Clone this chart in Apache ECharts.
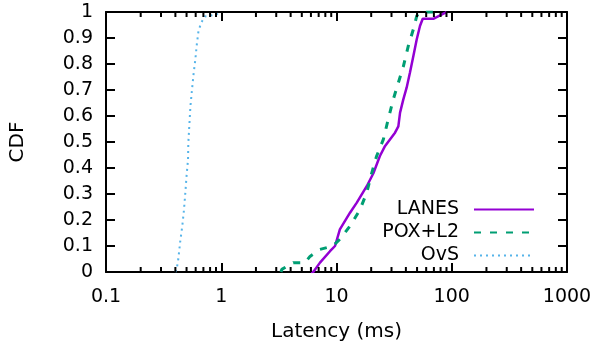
<!DOCTYPE html>
<html><head><meta charset="utf-8">
<script src="https://cdn.jsdelivr.net/npm/echarts@6/dist/echarts.min.js"></script>
<style>html,body{margin:0;padding:0;background:#fff}#c{width:597px;height:348px}</style>
</head><body><div id="c"></div>
<script>
var xTickLabels = ['0.1', '1', '10', '100', '1000'];
var yTicks = [0, 0.1, 0.2, 0.3, 0.4, 0.5, 0.6, 0.7, 0.8, 0.9, 1];

var lanesX = [6.0, 6.29, 7.19, 8.78, 9.71, 10.7, 13.1, 15.0, 18.3, 20.9, 23.8, 26.4, 29.1, 32.2, 34.4, 35.6, 38.0, 40.6, 43.4, 46.4, 49.7, 53.0, 56.0, 69.2, 79.1, 87.4, 90];
var lanesY = [0, 0, 0.036, 0.08, 0.1, 0.164, 0.228, 0.267, 0.33, 0.38, 0.446, 0.485, 0.51, 0.536, 0.56, 0.613, 0.664, 0.709, 0.767, 0.83, 0.895, 0.946, 0.974, 0.974, 0.987, 0.997, 1];

var poxX = [3.3, 3.35, 4.22, 5.33, 5.89, 7.19, 9.32, 10.7, 13.1, 16.0, 18.3, 20.2, 22.3, 25.5, 28.1, 31.1, 34.4, 38.0, 42.0, 46.4, 49.7, 53.0, 68.7];
var poxY = [0, 0.01, 0.036, 0.036, 0.06, 0.087, 0.1, 0.126, 0.177, 0.24, 0.305, 0.38, 0.446, 0.51, 0.587, 0.664, 0.728, 0.79, 0.87, 0.933, 0.985, 1, 1];

var ovsX = [0.40, 0.41, 0.424, 0.44, 0.46, 0.475, 0.488, 0.50, 0.515, 0.518, 0.53, 0.54, 0.557, 0.576, 0.595, 0.615, 0.636, 0.676, 0.72, 0.91, 0.95];
var ovsY = [0, 0.01, 0.05, 0.115, 0.18, 0.24, 0.305, 0.37, 0.433, 0.497, 0.573, 0.637, 0.70, 0.764, 0.815, 0.879, 0.93, 0.962, 0.983, 0.99, 1];

function zip(a, b) { return a.map(function (v, i) { return [v, b[i]]; }); }

var minorTicks = [];
[0.1, 1, 10, 100].forEach(function (d) { for (var k = 2; k <= 9; k++) minorTicks.push(+(d * k).toPrecision(3)); });

var FONT = 'DejaVu Sans';
var TICKFS = 19, NAMEFS = 20;
var chart = echarts.init(document.getElementById('c'), null, {renderer: 'canvas'});

var logAxisBase = {
  type: 'log', logBase: 10, min: 0.1, max: 1000,
  axisLine: {show: true, onZero: false, lineStyle: {color: '#000', width: 2}},
  axisTick: {show: true, inside: true, length: 9, lineStyle: {color: '#000', width: 2}},
  splitLine: {show: false},
  minorTick: {show: false}
};
var valAxisBase = {
  type: 'value', min: 0, max: 1, interval: 0.1,
  axisLine: {show: true, onZero: false, lineStyle: {color: '#000', width: 2}},
  axisTick: {show: true, inside: true, length: 9, lineStyle: {color: '#000', width: 2}},
  splitLine: {show: false}
};

var option = {
  animation: false,
  backgroundColor: '#fff',
  textStyle: {fontFamily: FONT},
  grid: {left: 106, right: 30, top: 12, bottom: 76, containLabel: false},
  legend: {
    orient: 'vertical', align: 'right', right: 57, top: 195,
    itemWidth: 60, itemHeight: 14, itemGap: 4,
    data: ['LANES', 'POX+L2', 'OvS'],
    itemStyle: {opacity: 0},
    textStyle: {fontFamily: FONT, fontSize: TICKFS, color: '#000', padding: [0, 10, 0, 0]},
    selectedMode: false
  },
  xAxis: [
    Object.assign({}, logAxisBase, {
      position: 'bottom',
      name: 'Latency (ms)', nameLocation: 'middle', nameGap: 50,
      nameTextStyle: {fontFamily: FONT, fontSize: NAMEFS, color: '#000'},
      axisLabel: {show: true, fontFamily: FONT, fontSize: TICKFS, color: '#000', margin: 16,
        formatter: function (v) { var i = Math.round(Math.log10(v)) + 1; return xTickLabels[i]; }}
    }),
    Object.assign({}, logAxisBase, {position: 'top', axisLabel: {show: false}})
  ],
  yAxis: [
    Object.assign({}, valAxisBase, {
      position: 'left',
      name: 'CDF', nameLocation: 'middle', nameGap: 78, nameRotate: 90,
      nameTextStyle: {fontFamily: FONT, fontSize: NAMEFS, color: '#000'},
      axisLabel: {show: true, fontFamily: FONT, fontSize: TICKFS, color: '#000', margin: 13,
        formatter: function (v) { var i = Math.round(v * 10); return String(yTicks[i]); }}
    }),
    Object.assign({}, valAxisBase, {position: 'right', axisLabel: {show: false}})
  ],
  series: [
    {
      name: 'LANES', type: 'line', xAxisIndex: 0, yAxisIndex: 0,
      data: zip(lanesX, lanesY), showSymbol: false, symbol: 'none',
      lineStyle: {color: '#9400d3', width: 2.5}, itemStyle: {color: '#9400d3'}, z: 3
    },
    {
      name: 'POX+L2', type: 'line', xAxisIndex: 0, yAxisIndex: 0,
      data: zip(poxX, poxY), showSymbol: false, symbol: 'none',
      lineStyle: {color: '#009e73', width: 3, type: [7, 9]}, itemStyle: {color: '#009e73'}, z: 4
    },
    {
      name: 'OvS', type: 'line', xAxisIndex: 0, yAxisIndex: 0,
      data: zip(ovsX, ovsY), showSymbol: false, symbol: 'none',
      lineStyle: {color: '#56b4e9', width: 2, type: [2, 4]}, itemStyle: {color: '#56b4e9'}, z: 5
    },
    {
      name: 'minor', type: 'custom', xAxisIndex: 0, yAxisIndex: 0, silent: true, z: 6,
      data: minorTicks.map(function (v) { return [v]; }),
      renderItem: function (params, api) {
        var v = api.value(0);
        var b = api.coord([v, 0]);
        var t = api.coord([v, 1]);
        var st = {stroke: '#000', lineWidth: 2};
        return {type: 'group', children: [
          {type: 'line', shape: {x1: b[0], y1: b[1], x2: b[0], y2: b[1] - 5}, style: st},
          {type: 'line', shape: {x1: t[0], y1: t[1], x2: t[0], y2: t[1] + 5}, style: st}
        ]};
      }
    }
  ]
};
chart.setOption(option);
</script></body></html>
